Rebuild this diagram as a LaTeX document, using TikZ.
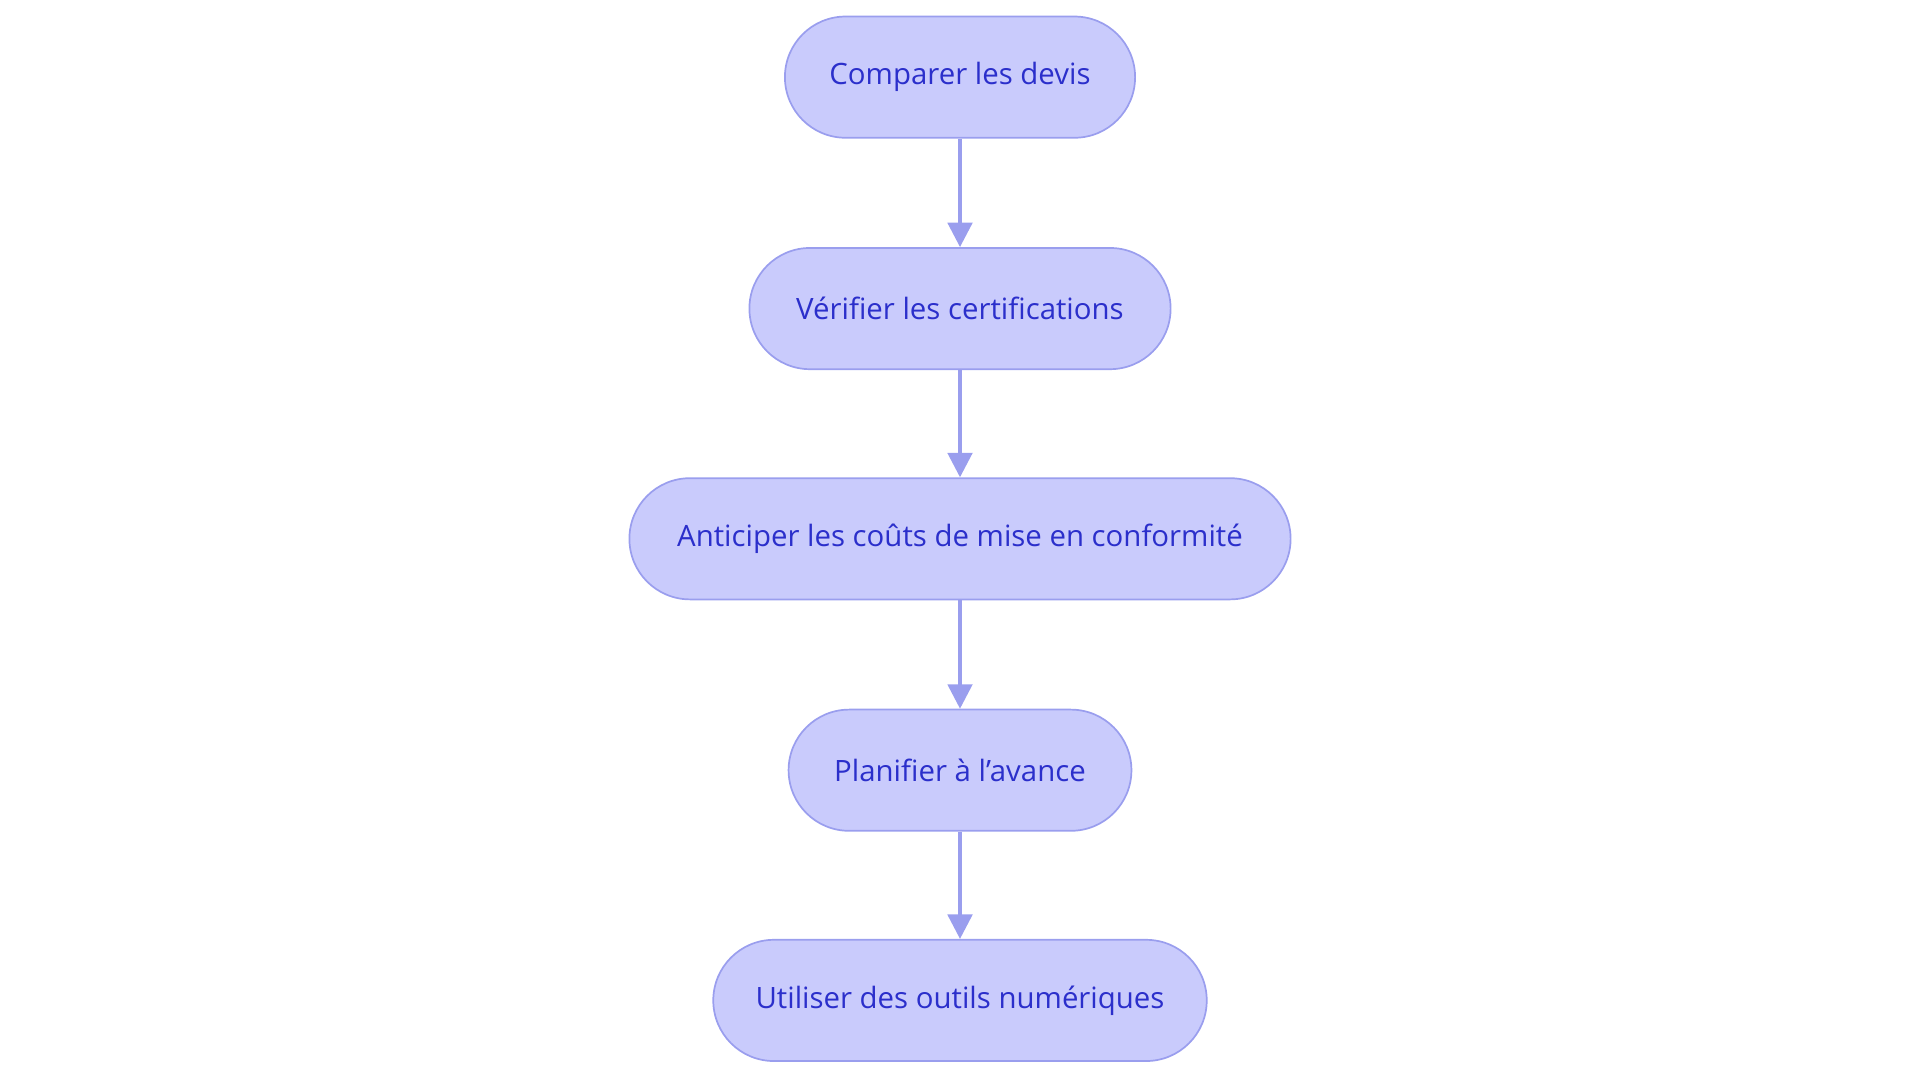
\documentclass[tikz,border=0pt]{standalone}
\usepackage{fontspec}
\setmainfont{Open Sans}
\usetikzlibrary{arrows.meta}
\definecolor{nfill}{HTML}{C9CBFC}
\definecolor{nline}{HTML}{9A9EEE}
\definecolor{ntext}{HTML}{2B2FCB}
\begin{document}
\begin{tikzpicture}[x=0.5pt,y=-0.5pt,
  box/.style={draw=nline,line width=0.7pt,fill=nfill,rounded corners=24.75pt,minimum height=49.5pt,text=ntext,font=\fontsize{12}{14}\selectfont,inner sep=0pt},
  arr/.style={draw=nline,line width=1.5pt,-{Triangle[length=10pt,width=10pt]}}]
\useasboundingbox (0,0) rectangle (1568,884);
\node[box,minimum width=143pt] (a) at (784,63) {Comparer les devis};
\node[box,minimum width=172pt] (b) at (784,252) {Vérifier les certifications};
\node[box,minimum width=270pt] (c) at (784,440) {Anticiper les coûts de mise en conformité};
\node[box,minimum width=140pt] (d) at (784,629) {Planifier à l'avance};
\node[box,minimum width=201.5pt] (e) at (784,817) {Utiliser des outils numériques};
\draw[arr] (a) -- (b);
\draw[arr] (b) -- (c);
\draw[arr] (c) -- (d);
\draw[arr] (d) -- (e);
\end{tikzpicture}
\end{document}
